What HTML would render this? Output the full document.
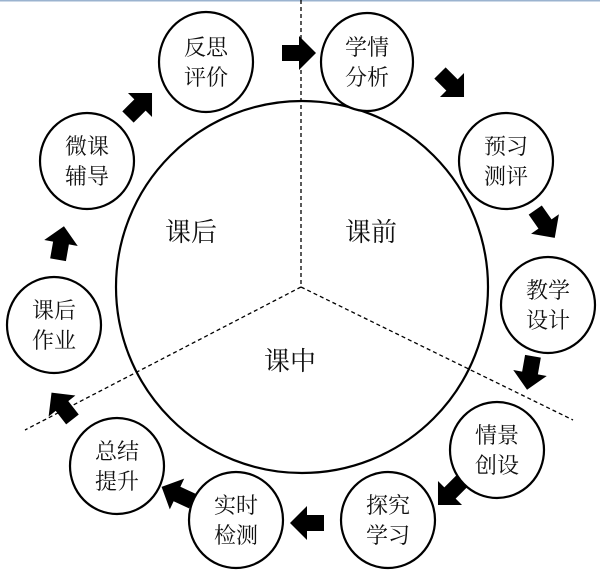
<!DOCTYPE html>
<html><head><meta charset="utf-8"><style>
html,body{margin:0;padding:0;background:#fff;}
svg{display:block;}
text{font-family:"Liberation Serif","Noto Serif CJK SC","Noto Sans CJK SC",serif;fill:#111;}
</style></head><body>
<svg width="600" height="575" viewBox="0 0 600 575" xmlns="http://www.w3.org/2000/svg">
<defs>
<polygon id="ar" points="-17,-8 0,-8 0,-17 17,0 0,17 0,8 -17,8" fill="#000"/>
</defs>
<line x1="0" y1="0.5" x2="600" y2="0.5" stroke="#9bb3cf" stroke-width="2"/>
<g stroke="#000" stroke-width="1.3" stroke-dasharray="4,3" fill="none">
<line x1="301" y1="0" x2="301" y2="287"/>
<line x1="301" y1="287" x2="573" y2="420"/>
<line x1="301" y1="287" x2="25" y2="430"/>
</g>
<circle cx="302" cy="287" r="186" fill="none" stroke="#000" stroke-width="2.2"/>
<g fill="#fff" stroke="#000" stroke-width="2.2">
<ellipse cx="206" cy="62" rx="47" ry="50"/>
<ellipse cx="367" cy="62" rx="46" ry="49"/>
<ellipse cx="506" cy="161" rx="47" ry="48"/>
<ellipse cx="548" cy="305" rx="47" ry="48"/>
<ellipse cx="497" cy="450" rx="47" ry="48"/>
<ellipse cx="388" cy="520" rx="47" ry="48"/>
<ellipse cx="236" cy="520" rx="47" ry="48"/>
<ellipse cx="117" cy="466" rx="47" ry="48"/>
<ellipse cx="54" cy="325" rx="47" ry="48"/>
<ellipse cx="87" cy="161" rx="47" ry="48"/>
</g>
<g font-size="22" text-anchor="middle">
<text x="206" y="55">反思</text><text x="206" y="85">评价</text>
<text x="367" y="55">学情</text><text x="367" y="85">分析</text>
<text x="506" y="154">预习</text><text x="506" y="184">测评</text>
<text x="548" y="298">教学</text><text x="548" y="328">设计</text>
<text x="497" y="443">情景</text><text x="497" y="473">创设</text>
<text x="388" y="513">探究</text><text x="388" y="543">学习</text>
<text x="236" y="513">实时</text><text x="236" y="543">检测</text>
<text x="117" y="459">总结</text><text x="117" y="489">提升</text>
<text x="54" y="318">课后</text><text x="54" y="348">作业</text>
<text x="87" y="154">微课</text><text x="87" y="184">辅导</text>
</g>
<g font-size="26" text-anchor="middle">
<text x="191" y="241">课后</text>
<text x="371" y="241">课前</text>
<text x="290" y="370">课中</text>
</g>
<use href="#ar" transform="translate(299,53)"/>
<use href="#ar" transform="translate(452,85) rotate(45)"/>
<use href="#ar" transform="translate(545,224) rotate(55)"/>
<use href="#ar" transform="translate(530,373) rotate(100)"/>
<use href="#ar" transform="translate(450,493) rotate(135)"/>
<use href="#ar" transform="translate(307,523) rotate(180)"/>
<use href="#ar" transform="translate(177,494) rotate(205)"/>
<use href="#ar" transform="translate(62,406) rotate(232)"/>
<use href="#ar" transform="translate(61,243) rotate(-80)"/>
<use href="#ar" transform="translate(140,105) rotate(-45)"/>
</svg>
</body></html>
